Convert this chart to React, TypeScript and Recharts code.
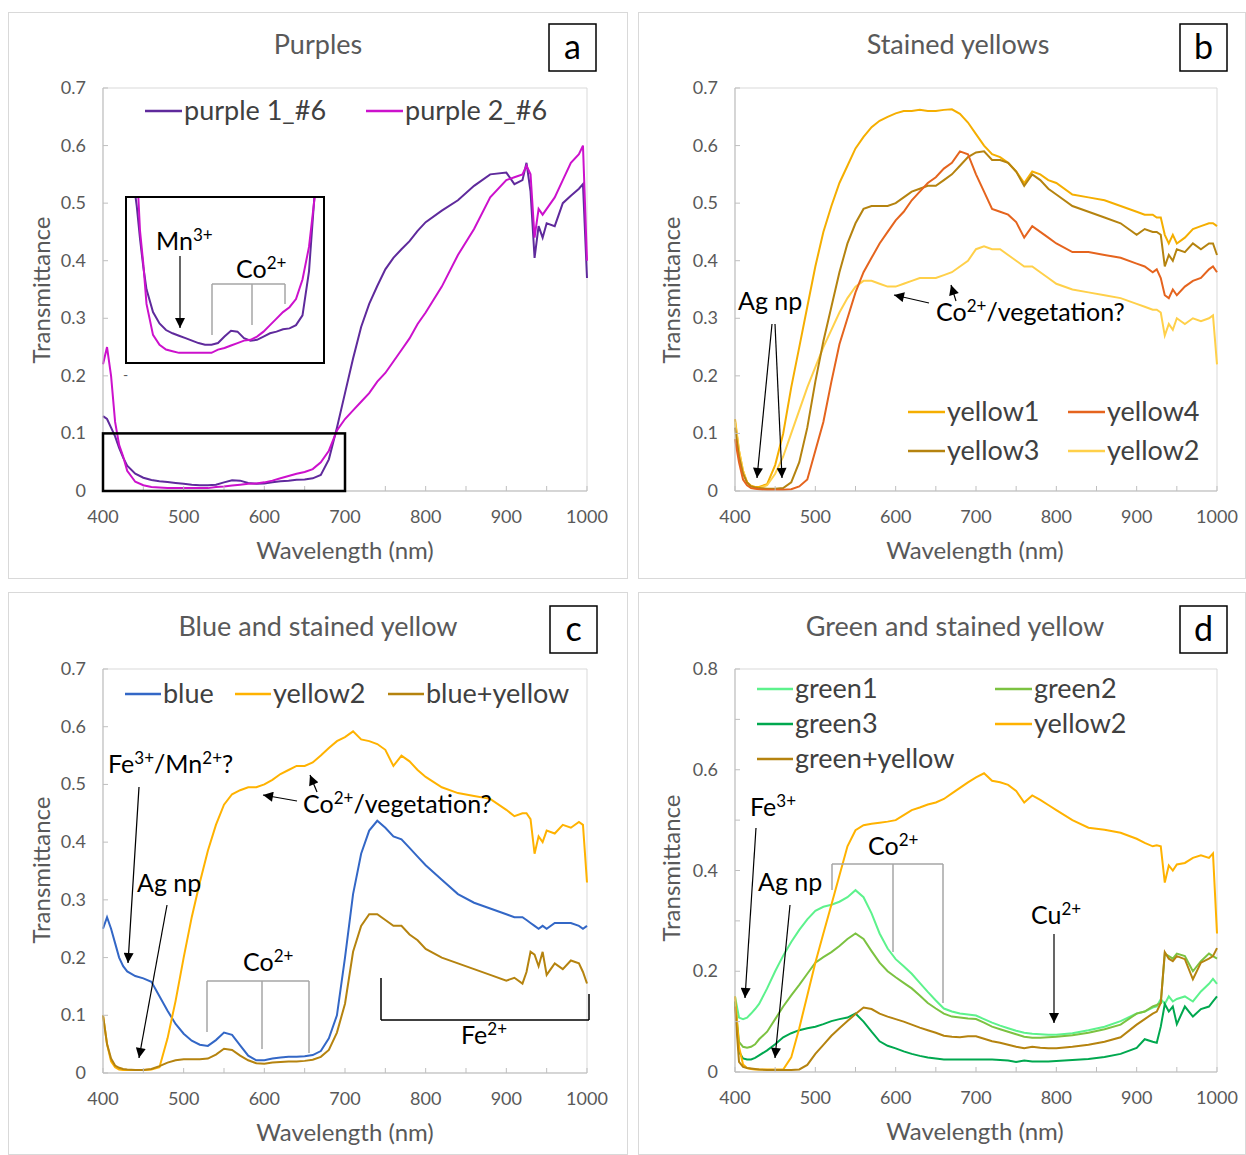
import React from "react";
import { LineChart, Line, XAxis, YAxis, ReferenceArea } from "recharts";

const FONT = "Lato, 'Open Sans', sans-serif";
const axisGray = "#bfbfbf";
const textGray = "#595959";

// wavelength grid (nm)
const wavelengths = [
  400, 405, 410, 415, 420, 425, 430,
  440, 450, 460, 470, 480, 490, 500, 510, 520, 530,
  540, 550, 560, 570, 580, 590, 600, 610, 620, 630,
  640, 650, 660, 670, 680, 690, 700, 710, 720, 730,
  740, 750, 760, 770, 780, 790, 800,
  820, 840, 860, 880,
  900, 910, 920, 925, 930, 935, 940, 945, 950,
  960, 970, 980, 990, 995, 1000,
];

const xTicks = [400, 450, 500, 550, 600, 650, 700, 750, 800, 850, 900, 950, 1000];
const yTicks07 = [0, 0.1, 0.2, 0.3, 0.4, 0.5, 0.6, 0.7];
const yTicks08 = [0, 0.1, 0.2, 0.3, 0.4, 0.5, 0.6, 0.7, 0.8];

// a: purples
const purple1 = [
  0.13, 0.125, 0.11, 0.095, 0.075, 0.058, 0.044,
  0.03, 0.023, 0.019, 0.017, 0.0155, 0.014, 0.0125, 0.011, 0.01, 0.01,
  0.011, 0.015, 0.0185, 0.018, 0.014, 0.0125, 0.013, 0.015, 0.017, 0.018,
  0.0195, 0.02, 0.022, 0.028, 0.055, 0.11, 0.17, 0.23, 0.285, 0.325,
  0.356, 0.385, 0.405, 0.42, 0.434, 0.452, 0.467,
  0.487, 0.505, 0.53, 0.55,
  0.553, 0.533, 0.54, 0.57, 0.52, 0.405, 0.46, 0.44, 0.465,
  0.46, 0.5, 0.513, 0.525, 0.533, 0.37,
];
const purple2 = [
  0.22, 0.25, 0.2, 0.12, 0.08, 0.06, 0.035,
  0.016, 0.01, 0.007, 0.006, 0.005, 0.005, 0.005, 0.005, 0.005, 0.005,
  0.007, 0.008, 0.0095, 0.011, 0.0125, 0.013, 0.015, 0.018, 0.022, 0.026,
  0.03, 0.033, 0.038, 0.05, 0.07, 0.105, 0.125, 0.14, 0.155, 0.17,
  0.19, 0.205, 0.225, 0.245, 0.265, 0.29, 0.31,
  0.355, 0.41, 0.455, 0.51,
  0.54, 0.545, 0.55, 0.565, 0.55, 0.44, 0.49, 0.48, 0.49,
  0.51, 0.54, 0.57, 0.585, 0.6, 0.4,
];

// b: stained yellows
const yellow1 = [
  0.125, 0.07, 0.035, 0.015, 0.009, 0.007, 0.007,
  0.012, 0.045, 0.1, 0.18, 0.25, 0.32, 0.39, 0.45, 0.495, 0.535,
  0.565, 0.595, 0.615, 0.632, 0.643, 0.65, 0.656, 0.66, 0.66, 0.662,
  0.66, 0.66, 0.662, 0.663, 0.655, 0.64, 0.62, 0.6, 0.585, 0.58,
  0.57, 0.555, 0.535, 0.555, 0.55, 0.54, 0.535,
  0.515, 0.51, 0.505, 0.495,
  0.485, 0.48, 0.48, 0.475, 0.475, 0.445, 0.43, 0.445, 0.43,
  0.44, 0.455, 0.46, 0.465, 0.465, 0.46,
];
const yellow4 = [
  0.09, 0.05, 0.02, 0.01, 0.005, 0.004, 0.003,
  0.002, 0.002, 0.002, 0.003, 0.008, 0.02, 0.07, 0.12, 0.19, 0.255,
  0.3, 0.345, 0.38, 0.405, 0.43, 0.45, 0.47, 0.485, 0.505, 0.52,
  0.535, 0.545, 0.56, 0.57, 0.59, 0.585, 0.55, 0.52, 0.49, 0.485,
  0.48, 0.467, 0.44, 0.46, 0.45, 0.44, 0.43,
  0.415, 0.415, 0.41, 0.405,
  0.395, 0.39, 0.38, 0.385, 0.37, 0.34, 0.335, 0.35, 0.34,
  0.355, 0.365, 0.37, 0.385, 0.39, 0.38,
];
const yellow3 = [
  0.11, 0.06, 0.03, 0.015, 0.008, 0.006, 0.005,
  0.004, 0.004, 0.005, 0.015, 0.05, 0.11, 0.19, 0.26, 0.32, 0.38,
  0.43, 0.465, 0.49, 0.495, 0.495, 0.495, 0.5, 0.51, 0.52, 0.525,
  0.53, 0.53, 0.54, 0.55, 0.565, 0.58, 0.588, 0.59, 0.575, 0.575,
  0.57, 0.555, 0.53, 0.55, 0.54, 0.525, 0.515,
  0.495, 0.485, 0.475, 0.465,
  0.445, 0.455, 0.45, 0.45, 0.445, 0.39, 0.41, 0.4, 0.42,
  0.415, 0.43, 0.42, 0.43, 0.43, 0.41,
];
const yellow2 = [
  0.12, 0.07, 0.035, 0.015, 0.008, 0.005, 0.005,
  0.01, 0.03, 0.06, 0.1, 0.14, 0.18, 0.215, 0.25, 0.28, 0.31,
  0.335, 0.355, 0.365, 0.365, 0.36, 0.355, 0.355, 0.36, 0.365, 0.37,
  0.37, 0.37, 0.375, 0.38, 0.39, 0.4, 0.42, 0.425, 0.42, 0.42,
  0.41, 0.4, 0.39, 0.39, 0.38, 0.37, 0.36,
  0.35, 0.345, 0.34, 0.335,
  0.325, 0.32, 0.315, 0.315, 0.31, 0.27, 0.29, 0.28, 0.3,
  0.29, 0.3, 0.295, 0.3, 0.305, 0.22,
];

// c: blue and stained yellow
const blue = [
  0.25, 0.27, 0.25, 0.225, 0.2, 0.185, 0.176,
  0.168, 0.164, 0.158, 0.133, 0.108, 0.085, 0.068, 0.056, 0.049, 0.047,
  0.057, 0.07, 0.066, 0.048, 0.03, 0.022, 0.022, 0.025, 0.027, 0.028,
  0.028, 0.029, 0.031, 0.038, 0.06, 0.1, 0.2, 0.31, 0.38, 0.42,
  0.437, 0.425, 0.41, 0.405, 0.39, 0.375, 0.36,
  0.335, 0.31, 0.295, 0.285,
  0.275, 0.27, 0.27, 0.265, 0.26, 0.255, 0.25, 0.255, 0.25,
  0.26, 0.26, 0.26, 0.255, 0.25, 0.255,
];
const yellow2c = [
  0.1, 0.05, 0.02, 0.01, 0.006, 0.005, 0.005,
  0.005, 0.005, 0.006, 0.01, 0.06, 0.125, 0.2, 0.27, 0.33, 0.385,
  0.43, 0.465, 0.483, 0.49, 0.495, 0.495, 0.5, 0.508, 0.518, 0.525,
  0.532, 0.532, 0.538, 0.55, 0.563, 0.575, 0.582, 0.592, 0.578, 0.575,
  0.57, 0.56, 0.532, 0.55, 0.54, 0.525, 0.513,
  0.495, 0.485, 0.48, 0.475,
  0.456, 0.445, 0.45, 0.45, 0.44, 0.38, 0.41, 0.4, 0.42,
  0.415, 0.43, 0.425, 0.435, 0.43, 0.33,
];
const blueYellow = [
  0.1, 0.05, 0.025, 0.013, 0.009, 0.007, 0.006,
  0.005, 0.005, 0.007, 0.012, 0.018, 0.022, 0.024, 0.024, 0.024, 0.025,
  0.032, 0.042, 0.04, 0.03, 0.022, 0.017, 0.016, 0.018, 0.019, 0.02,
  0.02, 0.021, 0.023, 0.028, 0.04, 0.07, 0.12, 0.21, 0.255, 0.275,
  0.275, 0.265, 0.255, 0.255, 0.24, 0.23, 0.215,
  0.2, 0.19, 0.18, 0.17,
  0.16, 0.165, 0.155, 0.175, 0.21, 0.205, 0.185, 0.21, 0.17,
  0.19, 0.18, 0.195, 0.19, 0.175, 0.155,
];

// d: green and stained yellow
const green1 = [
  0.15, 0.108, 0.105, 0.108, 0.116, 0.125, 0.135,
  0.166, 0.2, 0.231, 0.258, 0.282, 0.303, 0.32, 0.328, 0.332, 0.338,
  0.347, 0.361, 0.347, 0.315, 0.275, 0.245, 0.224, 0.21, 0.195, 0.177,
  0.159, 0.142, 0.126, 0.12, 0.116, 0.114, 0.112, 0.105, 0.098, 0.092,
  0.087, 0.082, 0.078, 0.076, 0.075, 0.074, 0.074,
  0.077, 0.083, 0.09, 0.101,
  0.116, 0.12, 0.128, 0.13, 0.145, 0.135, 0.15, 0.14, 0.145,
  0.15, 0.14, 0.16, 0.175, 0.185, 0.175,
];
const green2 = [
  0.14, 0.06, 0.05, 0.048, 0.05, 0.055, 0.065,
  0.08, 0.105, 0.13, 0.152, 0.173, 0.195, 0.217, 0.228, 0.238, 0.25,
  0.264, 0.275, 0.264, 0.24, 0.217, 0.2, 0.188, 0.177, 0.166, 0.152,
  0.137, 0.126, 0.116, 0.11, 0.108, 0.106, 0.105, 0.098, 0.09, 0.085,
  0.08, 0.075, 0.07, 0.068, 0.068, 0.069, 0.07,
  0.073, 0.078, 0.085, 0.094,
  0.116, 0.12, 0.13, 0.133, 0.137, 0.235, 0.23, 0.225, 0.235,
  0.23, 0.2, 0.22, 0.235, 0.23, 0.225,
];
const green3 = [
  0.14, 0.04, 0.027, 0.025, 0.025, 0.028, 0.033,
  0.043, 0.055, 0.069, 0.077, 0.083, 0.087, 0.09, 0.095, 0.101, 0.105,
  0.108, 0.116, 0.1, 0.08, 0.061, 0.052, 0.047, 0.041, 0.036, 0.032,
  0.029, 0.027, 0.025, 0.025, 0.025, 0.025, 0.025, 0.025, 0.025, 0.024,
  0.023, 0.02, 0.023, 0.021, 0.021, 0.021, 0.022,
  0.024, 0.026, 0.03, 0.036,
  0.048, 0.065, 0.06, 0.058, 0.09, 0.135, 0.12, 0.13, 0.095,
  0.13, 0.11, 0.125, 0.13, 0.14, 0.15,
];
const yellow2d = [
  0.15, 0.05, 0.015, 0.008, 0.006, 0.005, 0.005,
  0.005, 0.005, 0.005, 0.029, 0.087, 0.152, 0.217, 0.275, 0.332, 0.39,
  0.448, 0.48, 0.49, 0.493, 0.495, 0.497, 0.5, 0.51, 0.52, 0.525,
  0.531, 0.535, 0.542, 0.553, 0.564, 0.575, 0.585, 0.593, 0.578, 0.575,
  0.57, 0.558, 0.535, 0.549, 0.54, 0.53, 0.52,
  0.5, 0.485, 0.481, 0.475,
  0.463, 0.455, 0.448, 0.45, 0.448, 0.376, 0.41, 0.4, 0.412,
  0.415, 0.425, 0.43, 0.425, 0.434, 0.275,
];
const greenYellow = [
  0.13, 0.02, 0.01, 0.008, 0.007, 0.006, 0.005,
  0.004, 0.004, 0.004, 0.004, 0.005, 0.014, 0.036, 0.054, 0.072, 0.087,
  0.101, 0.115, 0.128, 0.125, 0.116, 0.11, 0.105, 0.1, 0.094, 0.088,
  0.083, 0.078, 0.072, 0.07, 0.069, 0.071, 0.071, 0.066, 0.061, 0.058,
  0.054, 0.05, 0.047, 0.05, 0.048, 0.047, 0.047,
  0.05, 0.054, 0.06, 0.069,
  0.094, 0.105, 0.116, 0.12, 0.137, 0.238, 0.225, 0.22, 0.23,
  0.224, 0.184, 0.217, 0.225, 0.23, 0.246,
];

type Series = { key: string; name: string; color: string; values: number[] };
type LegendPos = { key: string; x1: number; x2: number; y: number };

const seriesA: Series[] = [
  { key: "p1", name: "purple 1_#6", color: "#5f2a9c", values: purple1 },
  { key: "p2", name: "purple 2_#6", color: "#cc11cc", values: purple2 },
];
const seriesB: Series[] = [
  { key: "y1", name: "yellow1", color: "#f5ae00", values: yellow1 },
  { key: "y2", name: "yellow2", color: "#ffd04a", values: yellow2 },
  { key: "y3", name: "yellow3", color: "#b5830f", values: yellow3 },
  { key: "y4", name: "yellow4", color: "#e5641e", values: yellow4 },
];
const seriesC: Series[] = [
  { key: "bl", name: "blue", color: "#3367c6", values: blue },
  { key: "y2", name: "yellow2", color: "#ffb200", values: yellow2c },
  { key: "by", name: "blue+yellow", color: "#b5830f", values: blueYellow },
];
const seriesD: Series[] = [
  { key: "g1", name: "green1", color: "#5df28c", values: green1 },
  { key: "g2", name: "green2", color: "#7cc241", values: green2 },
  { key: "g3", name: "green3", color: "#00a84f", values: green3 },
  { key: "y2", name: "yellow2", color: "#ffb200", values: yellow2d },
  { key: "gy", name: "green+yellow", color: "#b5830f", values: greenYellow },
];

function rows(series: Series[]) {
  return wavelengths.map((w, i) => {
    const r: Record<string, number> = { w };
    series.forEach((s) => {
      r[s.key] = s.values[i];
    });
    return r;
  });
}

function XTick(props: any) {
  const { x, y, payload } = props;
  const v = payload.value;
  return (
    <g>
      <line x1={x} y1={y} x2={x} y2={y - 5} stroke={axisGray} />
      {v % 100 === 0 && (
        <text x={x} y={y + 32} textAnchor="middle" fill={textGray} fontSize={18} fontFamily={FONT}>
          {v}
        </text>
      )}
    </g>
  );
}

const makeYTick = (step: number) => (props: any) => {
  const { x, y, payload } = props;
  const v = payload.value as number;
  const show = Math.round(v * 10) % Math.round(step * 10) === 0;
  return (
    <g>
      <line x1={x} y1={y} x2={x + 5} y2={y} stroke={axisGray} />
      {show && (
        <text x={x - 17} y={y + 6} textAnchor="end" fill={textGray} fontSize={18} fontFamily={FONT}>
          {v === 0 ? "0" : v.toFixed(1)}
        </text>
      )}
    </g>
  );
};

type PanelProps = {
  left: number;
  top: number;
  width: number;
  height: number;
  margin: { top: number; right: number; bottom: number; left: number };
  yMax: number;
  yTicks: number[];
  step: number;
  series: Series[];
};

function Panel({ left, top, width, height, margin, yMax, yTicks, step, series }: PanelProps) {
  return (
    <div style={{ position: "absolute", left, top }}>
      <LineChart width={width} height={height} data={rows(series)} margin={margin}>
        <XAxis
          type="number"
          dataKey="w"
          domain={[400, 1000]}
          ticks={xTicks}
          interval={0}
          tickSize={0}
          tickMargin={0}
          tickLine={false}
          axisLine={{ stroke: axisGray }}
          tick={XTick}
          height={40}
        />
        <YAxis
          type="number"
          domain={[0, yMax]}
          ticks={yTicks}
          interval={0}
          tickSize={0}
          tickMargin={0}
          tickLine={false}
          axisLine={{ stroke: axisGray }}
          tick={makeYTick(step)}
          width={50}
        />
        <ReferenceArea x1={400} x2={1000} y1={0} y2={yMax} fill="none" stroke="#d9d9d9" />
        {series.map((s) => (
          <Line
            key={s.key}
            dataKey={s.key}
            name={s.name}
            stroke={s.color}
            strokeWidth={2}
            dot={false}
            type="linear"
            isAnimationActive={false}
          />
        ))}
      </LineChart>
    </div>
  );
}

// magnified view of the 400-700 nm, 0-0.1 window of panel a
function Inset() {
  const data = rows(seriesA);
  return (
    <div
      style={{
        position: "absolute",
        left: 125,
        top: 196,
        width: 200,
        height: 168,
        border: "2.5px solid #000",
        boxSizing: "border-box",
        background: "#fff",
      }}
    >
      <LineChart width={195} height={163} data={data} margin={{ top: 0, right: 0, bottom: 0, left: 0 }}>
        <XAxis type="number" dataKey="w" domain={[400, 700]} allowDataOverflow hide />
        <YAxis type="number" domain={[0, 0.1]} allowDataOverflow hide />
        {seriesA.map((s) => (
          <Line
            key={s.key}
            dataKey={s.key}
            stroke={s.color}
            strokeWidth={2}
            dot={false}
            type="linear"
            isAnimationActive={false}
          />
        ))}
      </LineChart>
    </div>
  );
}

// text with superscripts: parts starting with ^ are raised
function Note({ x, y, parts, size = 25 }: { x: number; y: number; parts: string[]; size?: number }) {
  const shift = size * 0.38;
  let raised = false;
  return (
    <text x={x} y={y} fontSize={size} fontFamily={FONT} fill="#000">
      {parts.map((p, i) => {
        const sup = p.startsWith("^");
        let dy = 0;
        if (sup && !raised) dy = -shift;
        if (!sup && raised) dy = shift;
        raised = sup;
        return (
          <tspan key={i} dy={dy} fontSize={sup ? size * 0.68 : size}>
            {sup ? p.slice(1) : p}
          </tspan>
        );
      })}
    </text>
  );
}

function Arrow({ x1, y1, x2, y2 }: { x1: number; y1: number; x2: number; y2: number }) {
  return <line x1={x1} y1={y1} x2={x2} y2={y2} stroke="#000" strokeWidth={1.2} markerEnd="url(#head)" />;
}

function Bracket({ y, xs, ends, color = "#a6a6a6" }: { y: number; xs: number[]; ends: number[]; color?: string }) {
  return (
    <g stroke={color} strokeWidth={1.5} fill="none">
      <line x1={xs[0]} y1={y} x2={xs[xs.length - 1]} y2={y} />
      {xs.map((x, i) => (
        <line key={i} x1={x} y1={y} x2={x} y2={ends[i]} />
      ))}
    </g>
  );
}

function LegendItems({ series, pos }: { series: Series[]; pos: LegendPos[] }) {
  return (
    <g>
      {pos.map((p) => {
        const s = series.find((d) => d.key === p.key)!;
        return (
          <g key={p.key}>
            <line x1={p.x1} y1={p.y} x2={p.x2} y2={p.y} stroke={s.color} strokeWidth={2.5} />
            <text x={p.x2 + 2} y={p.y + 9} fontSize={27} fontFamily={FONT} fill="#404040">
              {s.name}
            </text>
          </g>
        );
      })}
    </g>
  );
}

function Frame({ x, y, w, h, title, tx, ty, letter, lx, ly, ytx, yty, xtx, xty }: any) {
  return (
    <g>
      <rect x={x + 0.5} y={y + 0.5} width={w - 1} height={h - 1} fill="none" stroke="#d9d9d9" />
      <text x={tx} y={ty + 9} textAnchor="middle" fontSize={27} fontFamily={FONT} fill={textGray}>
        {title}
      </text>
      <rect x={lx} y={ly} width={47} height={47} fill="#fff" stroke="#000" strokeWidth={1.5} />
      <text x={lx + 23.5} y={ly + 35} textAnchor="middle" fontSize={34} fontFamily={FONT} fill="#000">
        {letter}
      </text>
      <text
        x={ytx}
        y={yty}
        transform={`rotate(-90 ${ytx} ${yty})`}
        textAnchor="middle"
        dy={8}
        fontSize={24}
        fontFamily={FONT}
        fill={textGray}
      >
        Transmittance
      </text>
      <text x={xtx} y={xty + 8} textAnchor="middle" fontSize={24} fontFamily={FONT} fill={textGray}>
        Wavelength (nm)
      </text>
    </g>
  );
}

export default function App() {
  return (
    <div style={{ position: "absolute", left: 0, top: 0, width: 1246, height: 1155, background: "#fff" }}>
      <Panel
        left={8}
        top={12}
        width={620}
        height={567}
        margin={{ top: 76, right: 41, bottom: 48, left: 45 }}
        yMax={0.7}
        yTicks={yTicks07}
        step={0.1}
        series={seriesA}
      />
      <Panel
        left={638}
        top={12}
        width={608}
        height={567}
        margin={{ top: 76, right: 29, bottom: 48, left: 47 }}
        yMax={0.7}
        yTicks={yTicks07}
        step={0.1}
        series={seriesB}
      />
      <Panel
        left={8}
        top={592}
        width={620}
        height={563}
        margin={{ top: 77, right: 41, bottom: 42, left: 45 }}
        yMax={0.7}
        yTicks={yTicks07}
        step={0.1}
        series={seriesC}
      />
      <Panel
        left={638}
        top={592}
        width={608}
        height={563}
        margin={{ top: 77, right: 29, bottom: 43, left: 47 }}
        yMax={0.8}
        yTicks={yTicks08}
        step={0.2}
        series={seriesD}
      />
      <Inset />
      <svg
        width={1246}
        height={1155}
        style={{ position: "absolute", left: 0, top: 0, pointerEvents: "none" }}
      >
        <defs>
          <marker
            id="head"
            viewBox="0 0 10 10"
            refX="10"
            refY="5"
            markerWidth="11"
            markerHeight="10"
            markerUnits="userSpaceOnUse"
            orient="auto"
          >
            <path d="M0,0 L10,5 L0,10 z" fill="#000" />
          </marker>
        </defs>

        <Frame x={8} y={12} w={620} h={567} title="Purples" tx={318} ty={45} letter="a" lx={549} ly={24}
          ytx={42} yty={290} xtx={345} xty={551} />
        <Frame x={638} y={12} w={608} h={567} title="Stained yellows" tx={958} ty={45} letter="b" lx={1180} ly={24}
          ytx={672} yty={290} xtx={975} xty={551} />
        <Frame x={8} y={592} w={620} h={563} title="Blue and stained yellow" tx={318} ty={627} letter="c" lx={550} ly={606}
          ytx={42} yty={870} xtx={345} xty={1133} />
        <Frame x={638} y={592} w={608} h={563} title="Green and stained yellow" tx={955} ty={627} letter="d" lx={1180} ly={606}
          ytx={672} yty={868} xtx={975} xty={1132} />

        <LegendItems
          series={seriesA}
          pos={[
            { key: "p1", x1: 145, x2: 182, y: 111 },
            { key: "p2", x1: 366, x2: 403, y: 111 },
          ]}
        />
        <LegendItems
          series={seriesB}
          pos={[
            { key: "y1", x1: 908, x2: 945, y: 412 },
            { key: "y4", x1: 1068, x2: 1105, y: 412 },
            { key: "y3", x1: 908, x2: 945, y: 451 },
            { key: "y2", x1: 1068, x2: 1105, y: 451 },
          ]}
        />
        <LegendItems
          series={seriesC}
          pos={[
            { key: "bl", x1: 125, x2: 161, y: 694 },
            { key: "y2", x1: 235, x2: 271, y: 694 },
            { key: "by", x1: 388, x2: 424, y: 694 },
          ]}
        />
        <LegendItems
          series={seriesD}
          pos={[
            { key: "g1", x1: 757, x2: 793, y: 689 },
            { key: "g2", x1: 995, x2: 1032, y: 689 },
            { key: "g3", x1: 757, x2: 793, y: 724 },
            { key: "y2", x1: 995, x2: 1032, y: 724 },
            { key: "gy", x1: 757, x2: 793, y: 759 },
          ]}
        />

        {/* panel a: zoom window and inset notes */}
        <rect x={103} y={433.4} width={242} height={57.6} fill="none" stroke="#000" strokeWidth={2.5} />
        <Note x={156} y={250} parts={["Mn", "^3+"]} />
        <Arrow x1={180} y1={256} x2={180} y2={328} />
        <Note x={236} y={278} parts={["Co", "^2+"]} />
        <Bracket y={284} xs={[212, 252, 285]} ends={[335, 325, 304]} />
        <text x={123} y={380} fontSize={14} fontFamily={FONT} fill={textGray}>-</text>

        {/* panel b */}
        <Note x={738} y={310} parts={["Ag np"]} />
        <Arrow x1={772} y1={324} x2={757} y2={478} />
        <Arrow x1={775} y1={324} x2={782} y2={478} />
        <Note x={936} y={321} parts={["Co", "^2+", "/vegetation?"]} />
        <Arrow x1={929} y1={303} x2={894} y2={295} />
        <Arrow x1={956} y1={301} x2={951} y2={285} />

        {/* panel c */}
        <Note x={108} y={773} parts={["Fe", "^3+", "/Mn", "^2+", "?"]} />
        <Arrow x1={139} y1={787} x2={128} y2={963} />
        <Note x={137} y={892} parts={["Ag np"]} />
        <Arrow x1={167} y1={905} x2={139} y2={1058} />
        <Note x={243} y={971} parts={["Co", "^2+"]} />
        <Bracket y={981} xs={[207, 262, 309]} ends={[1032, 1049, 1053]} />
        <Note x={303} y={813} parts={["Co", "^2+", "/vegetation?"]} />
        <Arrow x1={297} y1={801} x2={263} y2={795} />
        <Arrow x1={317} y1={792} x2={310} y2={775} />
        <g stroke="#000" strokeWidth={1.5} fill="none">
          <line x1={381} y1={978} x2={381} y2={1020} />
          <line x1={381} y1={1020} x2={589} y2={1020} />
          <line x1={589} y1={994} x2={589} y2={1020} />
        </g>
        <Note x={461} y={1044} parts={["Fe", "^2+"]} />

        {/* panel d */}
        <Note x={750} y={816} parts={["Fe", "^3+"]} />
        <Arrow x1={756} y1={828} x2={745} y2={998} />
        <Note x={758} y={891} parts={["Ag np"]} />
        <Arrow x1={790} y1={905} x2={775} y2={1058} />
        <Note x={868} y={855} parts={["Co", "^2+"]} />
        <Bracket y={864} xs={[832, 893, 943]} ends={[890, 952, 1003]} />
        <Note x={1031} y={924} parts={["Cu", "^2+"]} />
        <Arrow x1={1054} y1={934} x2={1054} y2={1023} />
      </svg>
    </div>
  );
}
